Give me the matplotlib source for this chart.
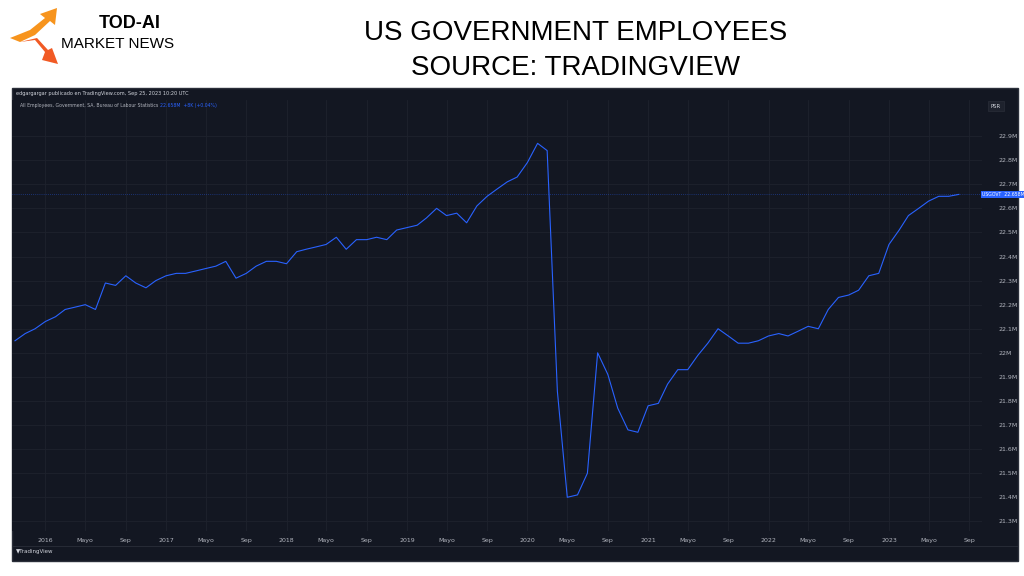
import matplotlib
matplotlib.use("Agg")
import matplotlib.pyplot as plt
import pandas as pd
from matplotlib.patches import Rectangle, Polygon

values = [22.05,22.08,22.10,22.13,22.15,22.18,22.19,22.20,22.18,22.29,22.28,22.32,22.29,22.27,22.30,
          22.32,22.33,22.33,22.34,22.35,22.36,22.38,22.31,22.33,22.36,22.38,22.38,22.37,22.42,22.43,
          22.44,22.45,22.48,22.43,22.47,22.47,22.48,22.47,22.51,22.52,22.53,22.56,22.60,22.57,22.58,
          22.54,22.61,22.65,22.68,22.71,22.73,22.79,22.87,22.84,21.84,21.40,21.41,21.50,22.00,21.91,
          21.77,21.68,21.67,21.78,21.79,21.87,21.93,21.93,21.99,22.04,22.10,22.07,22.04,22.04,22.05,
          22.07,22.08,22.07,22.09,22.11,22.10,22.18,22.23,22.24,22.26,22.32,22.33,22.45,22.51,22.57,
          22.60,22.63,22.65,22.65,22.658]
dates = pd.date_range("2015-10-01", periods=len(values), freq="MS")
ytick_vals = [21.3,21.4,21.5,21.6,21.7,21.8,21.9,22.0,22.1,22.2,22.3,22.4,22.5,22.6,22.7,22.8,22.9]
ytick_labels = ["21.3M","21.4M","21.5M","21.6M","21.7M","21.8M","21.9M","22M","22.1M","22.2M","22.3M",
                "22.4M","22.5M","22.6M","22.7M","22.8M","22.9M"]
xtick_dates = []
xtick_labels = []
for yr in range(2016, 2024):
    for m, lab in [(1, str(yr)), (5, "Mayo"), (9, "Sep")]:
        xtick_dates.append(pd.Timestamp(yr, m, 1)); xtick_labels.append(lab)

W, H = 1024, 576
fig = plt.figure(figsize=(W/100, H/100), dpi=100, facecolor="white")
bg = "#131722"
fig.patches.append(Rectangle((12/W, (576-561)/H), 1006/W, 473/H, transform=fig.transFigure,
                             facecolor=bg, edgecolor="#2a2e39", zorder=-5))
ax = fig.add_axes([12/W, (576-531)/H, 970/W, 431/H])
ax.set_zorder(2)
ax.set_facecolor(bg)
ax.plot(dates, values, color="#2962ff", lw=0.8)
ax.set_ylim(21.26, 23.05)
ax.set_xlim(pd.Timestamp("2015-09-22"), pd.Timestamp("2023-10-10"))
ax.yaxis.tick_right()
ax.set_yticks(ytick_vals)
ax.set_yticklabels(ytick_labels)
ax.set_xticks(xtick_dates)
ax.set_xticklabels(xtick_labels)
ax.tick_params(colors="#b2b5be", labelsize=4.5, length=0, pad=5)
ax.tick_params(axis="y", pad=12)
ax.grid(color="#1e222d", lw=0.6)
for s in ax.spines.values():
    s.set_visible(False)
ax.axhline(values[-1], color="#2962ff", lw=0.5, ls=(0, (1, 2)), alpha=0.7)
ax.annotate("USGOVT  22.658M", xy=(1.0, values[-1]), xycoords=("axes fraction", "data"),
            xytext=(0, 0), textcoords="offset points", fontsize=3.3, color="white", va="center",
            bbox=dict(boxstyle="square,pad=0.25", fc="#2962ff", ec="none"), annotation_clip=False)

fig.text(16/W, 1-94/H, "edgargargar publicado en TradingView.com, Sep 25, 2023 10:20 UTC",
         color="#d1d4dc", fontsize=3.6, va="center")
fig.text(20/W, 1-105/H, "All Employees, Government, SA, Bureau of Labour Statistics", color="#b2b5be",
         fontsize=3.3, va="center")
fig.text(160/W, 1-105/H, "22.658M  +8K (+0.04%)", color="#2962ff", fontsize=3.3, va="center")
fig.text(996/W, 1-106/H, "PSR", color="#d1d4dc", fontsize=3.8, va="center", ha="center",
         bbox=dict(boxstyle="square,pad=0.5", fc="#1e222d", ec="#2a2e39", lw=0.5))
fig.text(16/W, 1-552/H, "\u25bcTradingView", color="#d1d4dc", fontsize=4, va="center")
fig.add_artist(plt.Line2D([12/W, 1018/W], [1-546/H, 1-546/H], color="#2a2e39", lw=0.6))

fig.text(576/W, 1-33/H, "US GOVERNMENT EMPLOYEES", ha="center", va="center", fontsize=20,
         family="Liberation Sans")
fig.text(576/W, 1-68/H, "SOURCE: TRADINGVIEW", ha="center", va="center", fontsize=20,
         family="Liberation Sans")
fig.text(130/W, 1-24/H, "TOD-AI", ha="center", va="center", fontsize=13, weight="bold",
         family="Liberation Sans")
fig.text(118/W, 1-44/H, "MARKET NEWS", ha="center", va="center", fontsize=11, family="Liberation Sans")
def P(pts, c):
    fig.patches.append(Polygon([(x/W, 1-y/H) for x, y in pts], closed=True, transform=fig.transFigure,
                               facecolor=c, edgecolor="none"))
P([(10, 38), (30, 30), (45, 18), (40, 14), (57, 8), (55, 25), (50, 21), (35, 35), (20, 42)], "#f7941d")
P([(20, 42), (35, 40), (45, 52), (42, 60), (58, 64), (52, 48), (48, 50), (37, 38)], "#f15a24")
fig.savefig("out.png", dpi=100, facecolor="white")
